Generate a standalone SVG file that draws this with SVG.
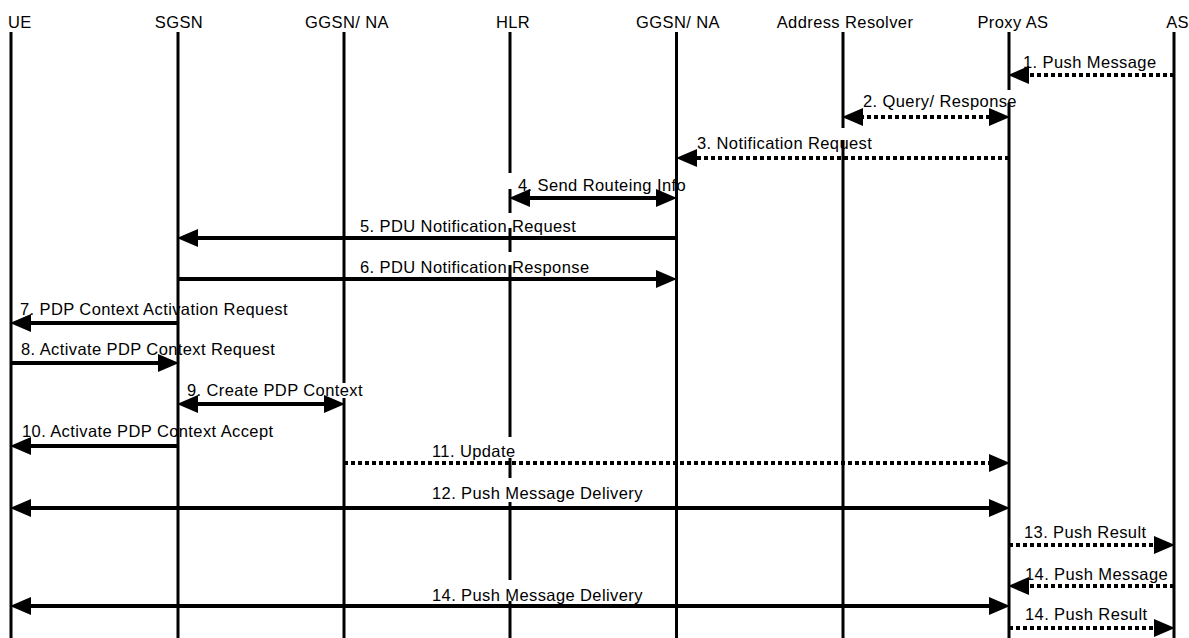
<svg xmlns="http://www.w3.org/2000/svg" width="1189" height="638" viewBox="0 0 1189 638">
<style>
text{font-family:"Liberation Sans",Arial,sans-serif;font-size:16.5px;fill:#000;letter-spacing:0.4px}
.hd{text-anchor:middle}
.life{stroke:#000;stroke-width:3;fill:none}
.msg{stroke:#000;stroke-width:4;fill:none}
.dot{stroke-dasharray:4 3}
</style>
<defs>
<marker id="ah" markerUnits="userSpaceOnUse" markerWidth="21" markerHeight="18" refX="10" refY="9" orient="auto-start-reverse" viewBox="0 0 21 18">
<path d="M0,0 L21,9 L0,18 Z" fill="#000"/>
</marker>
</defs>
<rect width="1189" height="638" fill="#fff"/>
<g id="ue"><text x="8" y="28">UE</text><path class="life" d="M11,32V638"/></g>
<g id="sgsn"><text class="hd" x="179" y="28">SGSN</text><path class="life" d="M178,32V638"/></g>
<g id="ggsn1"><text class="hd" x="347" y="28">GGSN/ NA</text><path class="life" d="M344,32V383M344,398V638"/></g>
<g id="hlr"><text class="hd" x="513" y="28">HLR</text><path class="life" d="M510,32V173M510,189V213M510,228V252M510,265V437M510,458V478M510,502V580M510,601V638"/></g>
<g id="ggsn2"><text class="hd" x="678" y="28">GGSN/ NA</text><path class="life" d="M676.5,32V638"/></g>
<g id="resolver"><text class="hd" x="845" y="28">Address Resolver</text><path class="life" d="M843,32V128M843,140V638"/></g>
<g id="proxy"><text class="hd" x="1013" y="28">Proxy AS</text><path class="life" d="M1009,32V90M1009,103V638"/></g>
<g id="as"><text x="1189" y="28" text-anchor="end">AS</text><path class="life" d="M1174,32V638"/></g>
<g id="connectors">
<path class="msg dot" d="M1174,75H1019" marker-end="url(#ah)"/>
<text x="1023" y="68">1. Push Message</text>
<path class="msg dot" d="M853,117H999" marker-start="url(#ah)" marker-end="url(#ah)"/>
<text x="863" y="107">2. Query/ Response</text>
<path class="msg dot" d="M1009,158H687" marker-end="url(#ah)"/>
<text x="697" y="149">3. Notification Request</text>
<path class="msg" d="M520,198H666" marker-start="url(#ah)" marker-end="url(#ah)"/>
<text x="518" y="191">4. Send Routeing Info</text>
<path class="msg" d="M676,238H188" marker-end="url(#ah)"/>
<text x="360" y="232">5. PDU Notification Request</text>
<path class="msg" d="M178,279H666" marker-end="url(#ah)"/>
<text x="360" y="273">6. PDU Notification Response</text>
<path class="msg" d="M178,323H21" marker-end="url(#ah)"/>
<text x="20" y="315">7. PDP Context Activation Request</text>
<path class="msg" d="M11,363H168" marker-end="url(#ah)"/>
<text x="21" y="355">8. Activate PDP Context Request</text>
<path class="msg" d="M188,404H334" marker-start="url(#ah)" marker-end="url(#ah)"/>
<text x="187" y="396">9. Create PDP Context</text>
<path class="msg" d="M178,446H21" marker-end="url(#ah)"/>
<text x="22" y="437">10. Activate PDP Context Accept</text>
<path class="msg dot" d="M344,463H999" marker-end="url(#ah)"/>
<text x="432" y="457">11. Update</text>
<path class="msg" d="M21,508H999" marker-start="url(#ah)" marker-end="url(#ah)"/>
<text x="432" y="499">12. Push Message Delivery</text>
<path class="msg dot" d="M1009,545H1164" marker-end="url(#ah)"/>
<text x="1024" y="538">13. Push Result</text>
<path class="msg dot" d="M1174,586H1019" marker-end="url(#ah)"/>
<text x="1025" y="580">14. Push Message</text>
<path class="msg" d="M21,606H999" marker-start="url(#ah)" marker-end="url(#ah)"/>
<text x="432" y="601">14. Push Message Delivery</text>
<path class="msg dot" d="M1009,628H1164" marker-end="url(#ah)"/>
<text x="1025" y="620">14. Push Result</text>
</g>
</svg>
